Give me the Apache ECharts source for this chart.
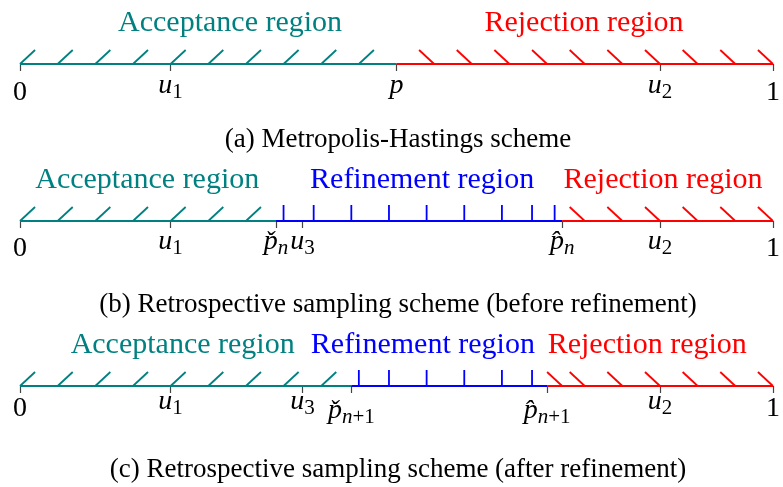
<!DOCTYPE html>
<html><head><meta charset="utf-8">
<script src="https://cdn.jsdelivr.net/npm/echarts@6/dist/echarts.min.js"></script>
<style>html,body{margin:0;padding:0;background:#fff}#c{width:783px;height:487px}</style>
</head><body><div id="c"></div>
<script>
// ---------- Panel (a): Metropolis-Hastings ----------
const ticksA = [0, 0.2, 0.5, 0.85, 1];
const tickLabelsA = ['0', 'u_1', 'p', 'u_2', '1'];
const segmentsA = [[0, 0.5, 'accept'], [0.5, 1, 'reject']];
const acceptHatchA = [0, 0.05, 0.1, 0.15, 0.2, 0.25, 0.3, 0.35, 0.4, 0.45];
const rejectHatchA = [0.55, 0.6, 0.65, 0.7, 0.75, 0.8, 0.85, 0.9, 0.95, 1];
const refineTicksA = [];
const regionNamesA = ['Acceptance region', 'Rejection region'];
const regionKindsA = ['accept', 'reject'];
const regionLabelXA = [0.279, 0.749];

// ---------- Panel (b): before refinement ----------
const ticksB = [0, 0.2, 0.34, 0.375, 0.72, 0.85, 1];
const tickLabelsB = ['0', 'u_1', 'p\u030C_n', 'u_3', 'p\u0302_n', 'u_2', '1'];
const segmentsB = [[0, 0.34, 'accept'], [0.34, 0.72, 'refine'], [0.72, 1, 'reject']];
const acceptHatchB = [0, 0.05, 0.1, 0.15, 0.2, 0.25, 0.3];
const rejectHatchB = [0.75, 0.8, 0.85, 0.9, 0.95, 1];
const refineTicksB = [0.35, 0.39, 0.44, 0.49, 0.54, 0.59, 0.64, 0.68, 0.71];
const regionNamesB = ['Acceptance region', 'Refinement region', 'Rejection region'];
const regionKindsB = ['accept', 'refine', 'reject'];
const regionLabelXB = [0.169, 0.534, 0.854];

// ---------- Panel (c): after refinement ----------
const ticksC = [0, 0.2, 0.375, 0.44, 0.70, 0.85, 1];
const tickLabelsC = ['0', 'u_1', 'u_3', 'p\u030C_n+1', 'p\u0302_n+1', 'u_2', '1'];
const segmentsC = [[0, 0.44, 'accept'], [0.44, 0.70, 'refine'], [0.70, 1, 'reject']];
const acceptHatchC = [0, 0.05, 0.1, 0.15, 0.2, 0.25, 0.3, 0.35, 0.4];
const rejectHatchC = [0.72, 0.75, 0.8, 0.85, 0.9, 0.95, 1];
const refineTicksC = [0.45, 0.49, 0.54, 0.59, 0.64, 0.68];
const regionNamesC = ['Acceptance region', 'Refinement region', 'Rejection region'];
const regionKindsC = ['accept', 'refine', 'reject'];
const regionLabelXC = [0.216, 0.535, 0.833];

const captions = [
  '(a) Metropolis-Hastings scheme',
  '(b) Retrospective sampling scheme (before refinement)',
  '(c) Retrospective sampling scheme (after refinement)'
];

// ---------- styling / layout ----------
const FONT = '"Liberation Serif", "DejaVu Serif", serif';
const COLORS = { accept: '#008080', refine: '#0000ff', reject: '#ff0000' };
const AXIS_Y = [64, 221, 386];       // pixel y of each number line
const GRID_H = 16;                    // grid height = refinement tick height
const HATCH_H = 14 / 16;              // hatch height in y units
const HATCH_DX = 0.02;                // hatch slant in x units
const LABEL_MARGIN = [7.2, 6.5, 1.5];
const CAPTION_Y = [140, 305, 470];
const F = 28, FS = 21;

function richStyles() {
  const H = 40;
  const mk = (size, pb, italic) => ({
    fontFamily: FONT, fontSize: size, color: '#000', fontStyle: italic ? 'italic' : 'normal',
    verticalAlign: 'bottom', padding: [H - size - pb, 0, pb, 0]
  });
  return {
    d: mk(F, 5, false),
    m: mk(F, 12, true),
    s: mk(FS, 8.5, false), si: mk(FS, 8.5, true),
    ma: mk(F, 3, true),
    sa: mk(FS, 0, false), sai: mk(FS, 0, true)
  };
}

function fmtLabel(label, accentLow) {
  if (/^[0-9]$/.test(label)) return '{d|' + label + '}';
  const parts = label.split('_');
  const b = parts[0], sub = parts[1];
  const low = accentLow && b.length > 1;
  let s = '{' + (low ? 'ma' : 'm') + '|' + b + '}';
  if (sub) {
    const sk = low ? 'sa' : 's';
    (sub.match(/[a-z]+|[^a-z]+/g) || []).forEach(t => {
      s += '{' + (/[a-z]/.test(t) ? sk + 'i' : sk) + '|' + t + '}';
    });
  }
  return s;
}

const panels = [
  { ticks: ticksA, labels: tickLabelsA, seg: segmentsA, ah: acceptHatchA, rh: rejectHatchA, rt: refineTicksA,
    names: regionNamesA, kinds: regionKindsA, lx: regionLabelXA, accentLow: false },
  { ticks: ticksB, labels: tickLabelsB, seg: segmentsB, ah: acceptHatchB, rh: rejectHatchB, rt: refineTicksB,
    names: regionNamesB, kinds: regionKindsB, lx: regionLabelXB, accentLow: false },
  { ticks: ticksC, labels: tickLabelsC, seg: segmentsC, ah: acceptHatchC, rh: rejectHatchC, rt: refineTicksC,
    names: regionNamesC, kinds: regionKindsC, lx: regionLabelXC, accentLow: true }
];

const grid = [], xAxis = [], yAxis = [], series = [];
panels.forEach((p, i) => {
  grid.push({ left: 20, right: 7, top: AXIS_Y[i] - GRID_H, height: GRID_H, containLabel: false });
  xAxis.push({
    gridIndex: i, type: 'value', min: 0, max: 1,
    axisLine: { show: false }, splitLine: { show: false },
    axisTick: { show: true, customValues: p.ticks, length: 7, lineStyle: { color: '#444', width: 1.2 } },
    axisLabel: {
      show: true, customValues: p.ticks, margin: LABEL_MARGIN[i], showMinLabel: true, showMaxLabel: true,
      formatter: v => { const k = p.ticks.findIndex(t => Math.abs(t - v) < 1e-9); return k < 0 ? '' : fmtLabel(p.labels[k], p.accentLow); },
      rich: richStyles()
    }
  });
  yAxis.push({ gridIndex: i, type: 'value', min: 0, max: 1, show: false });

  // hatches (accept: "/" rising to the right)
  series.push({
    type: 'custom', xAxisIndex: i, yAxisIndex: i, silent: true, clip: false,
    data: p.ah.map(x => [x]),
    renderItem: (params, api) => {
      const a = api.coord([api.value(0), 0]), b = api.coord([api.value(0) + HATCH_DX, HATCH_H]);
      return { type: 'line', shape: { x1: a[0], y1: a[1], x2: b[0], y2: b[1] }, style: { stroke: COLORS.accept, lineWidth: 1.8 } };
    }
  });
  // hatches (reject: "\" falling to the right)
  series.push({
    type: 'custom', xAxisIndex: i, yAxisIndex: i, silent: true, clip: false,
    data: p.rh.map(x => [x]),
    renderItem: (params, api) => {
      const a = api.coord([api.value(0) - HATCH_DX, HATCH_H]), b = api.coord([api.value(0), 0]);
      return { type: 'line', shape: { x1: a[0], y1: a[1], x2: b[0], y2: b[1] }, style: { stroke: COLORS.reject, lineWidth: 1.8 } };
    }
  });
  // refinement ticks
  series.push({
    type: 'custom', xAxisIndex: i, yAxisIndex: i, silent: true, clip: false,
    data: p.rt.map(x => [x]),
    renderItem: (params, api) => {
      const a = api.coord([api.value(0), 0]), b = api.coord([api.value(0), 1]);
      return { type: 'line', shape: { x1: a[0], y1: a[1], x2: b[0], y2: b[1] }, style: { stroke: COLORS.refine, lineWidth: 1.8 } };
    }
  });
  // coloured number-line segments
  series.push({
    type: 'custom', xAxisIndex: i, yAxisIndex: i, silent: true, clip: false,
    data: p.seg.map(s => [s[0], s[1]]),
    renderItem: (params, api) => {
      const a = api.coord([api.value(0), 0]), b = api.coord([api.value(1), 0]);
      const kind = p.seg[params.dataIndex][2];
      return { type: 'line', shape: { x1: a[0], y1: a[1], x2: b[0], y2: b[1] }, style: { stroke: COLORS[kind], lineWidth: 2.2 } };
    }
  });
  // region labels
  series.push({
    type: 'custom', xAxisIndex: i, yAxisIndex: i, silent: true, clip: false,
    data: p.lx.map(x => [x]),
    renderItem: (params, api) => {
      const a = api.coord([api.value(0), 0]);
      return { type: 'text', x: a[0], y: a[1] - 40.5,
        style: { text: p.names[params.dataIndex], fill: COLORS[p.kinds[params.dataIndex]],
          font: '30px ' + FONT, align: 'center', verticalAlign: 'middle' } };
    }
  });
});

const chart = echarts.init(document.getElementById('c'), null, { renderer: 'canvas' });
chart.setOption({
  animation: false,
  backgroundColor: '#fff',
  grid, xAxis, yAxis, series,
  graphic: captions.map((t, i) => ({
    type: 'text', x: 398, y: CAPTION_Y[i],
    style: { text: t, fill: '#000', font: '27px ' + FONT, align: 'center', verticalAlign: 'middle' }
  }))
});
</script>
</body></html>
